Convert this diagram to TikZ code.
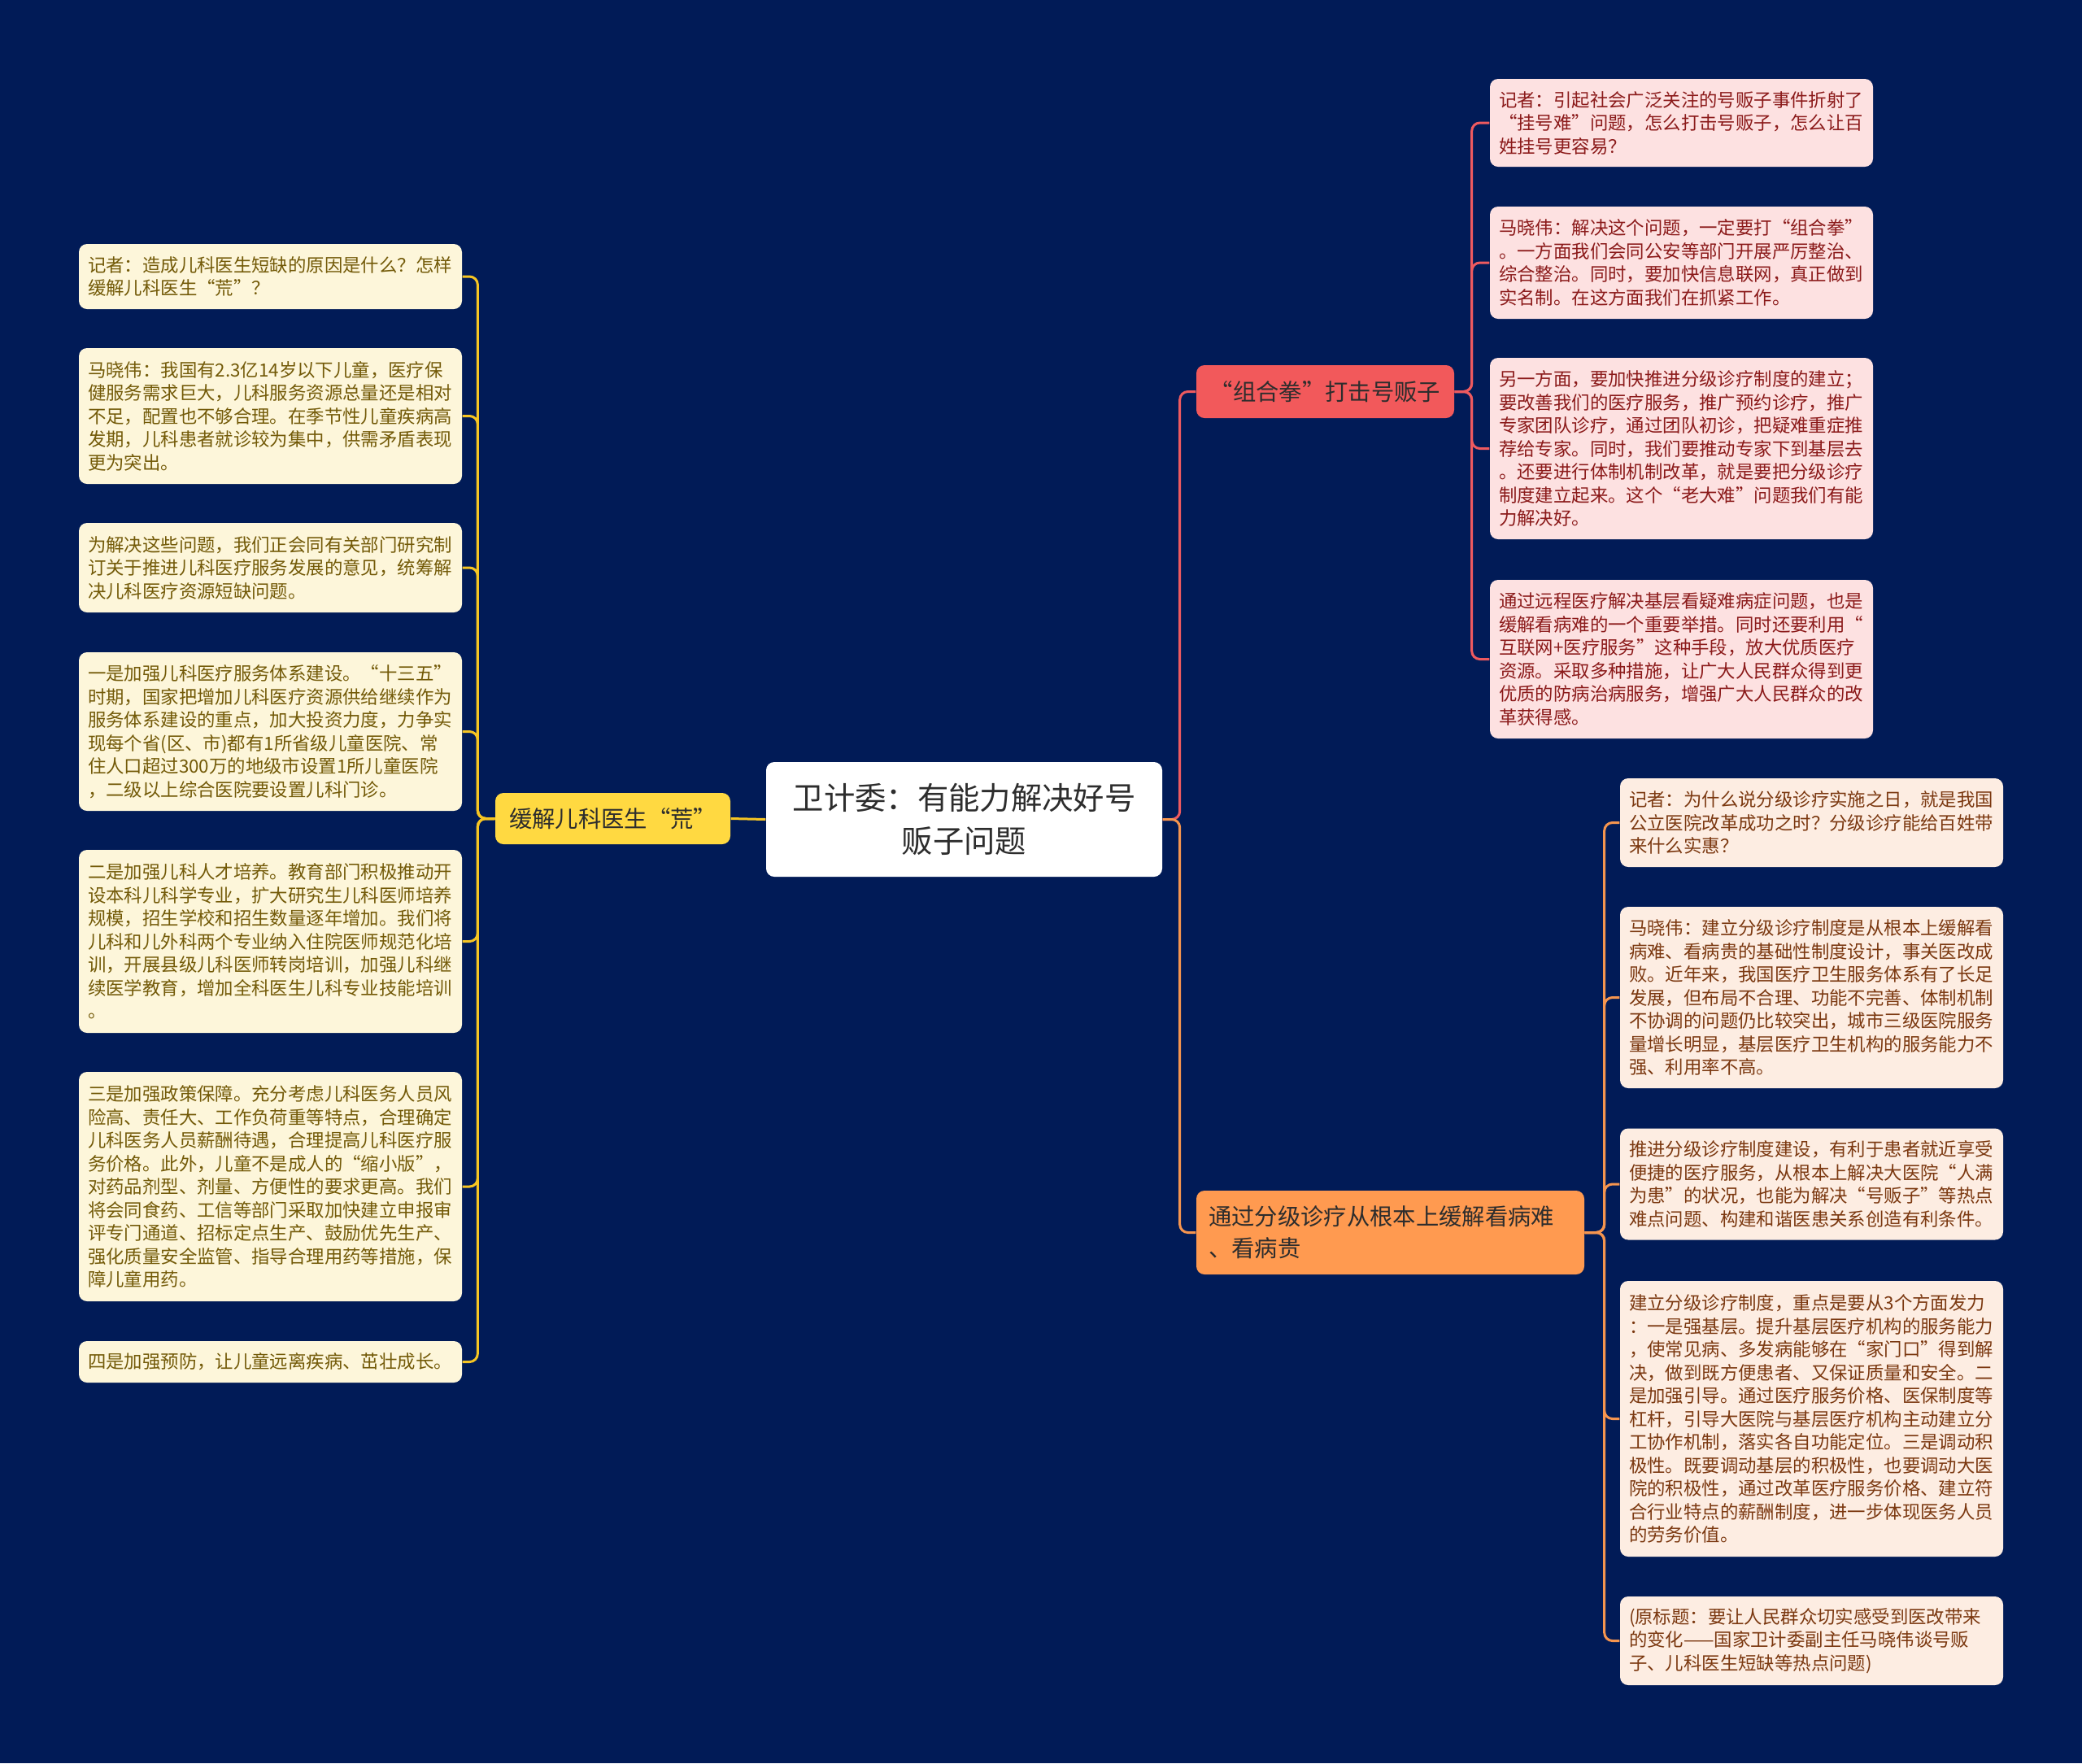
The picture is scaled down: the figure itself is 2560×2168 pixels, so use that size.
\documentclass[tikz,border=0pt]{standalone}
\usepackage{fontspec}
\setmainfont{Noto Sans CJK SC}
\definecolor{bg}{HTML}{011B57}
\definecolor{creamfill}{HTML}{FDF6DA}
\definecolor{creamtext}{HTML}{735A08}
\definecolor{yline}{HTML}{F6C523}
\definecolor{yfill}{HTML}{FFD941}
\definecolor{rline}{HTML}{EE5A5F}
\definecolor{rfill}{HTML}{F2595B}
\definecolor{pinkfill}{HTML}{FDE1E1}
\definecolor{pinktext}{HTML}{8B1A1A}
\definecolor{oline}{HTML}{F5954F}
\definecolor{ofill}{HTML}{FF9A50}
\definecolor{peachfill}{HTML}{FDEDE2}
\definecolor{peachtext}{HTML}{7B3810}
\definecolor{darktext}{HTML}{2D2D2D}
\newcommand\leaffont{\fontsize{6.72pt}{8.55pt}\selectfont}
\newcommand\branchfont{\fontsize{8.5pt}{11.7pt}\selectfont}
\newcommand\rootfont{\fontsize{11.5pt}{15.9pt}\selectfont}
\begin{document}
\begin{tikzpicture}[x=0.3pt,y=-0.3pt,
  leafbox/.style={rounded corners=3pt, inner xsep=3.3pt, inner ysep=0pt,
    text width=134.7pt, align=left, font=\leaffont, anchor=center},
  leafL/.style={leafbox, fill=creamfill, text=creamtext},
  leafA/.style={leafbox, fill=pinkfill, text=pinktext},
  leafB/.style={leafbox, fill=peachfill, text=peachtext},
  conn/.style={line width=0.9pt, rounded corners=3pt},
  yconn/.style={conn, draw=yline},
  rconn/.style={conn, draw=rline},
  oconn/.style={conn, draw=oline}]
\fill[bg] (0,0) rectangle (2560,2168);
\useasboundingbox (0,0) rectangle (2560,2168);

% root
\node[rounded corners=3pt, fill=white, text=darktext, font=\rootfont, align=center,
  minimum width=146.1pt, minimum height=42.3pt, inner sep=0pt] (root) at (1185.5,1007.5)
  {卫计委：有能力解决好号\\贩子问题};

% branches
\node[rounded corners=3pt, fill=yfill, text=darktext, font=\branchfont,
  minimum width=86.7pt, minimum height=18.9pt, inner sep=0pt] (b1) at (753.5,1006.5)
  {缓解儿科医生“荒”};
\node[rounded corners=3pt, fill=rfill, text=darktext, font=\branchfont,
  minimum width=95.1pt, minimum height=19.5pt, inner sep=0pt] (b2) at (1629.5,481.5)
  {“组合拳”打击号贩子};
\node[rounded corners=3pt, fill=ofill, text=darktext, font=\branchfont,
  text width=134.1pt, align=left, inner xsep=4.5pt, inner ysep=0pt,
  minimum height=30.9pt] (b3) at (1709.5,1515.5)
  {通过分级诊疗从根本上缓解看病难\\、看病贵};

% left leaves
\node[leafL, minimum height=24pt] (l1) at (332.5,340)
  {记者：造成儿科医生短缺的原因是什么？怎样\\缓解儿科医生“荒”？};
\node[leafL, minimum height=50.1pt] (l2) at (332.5,511.5)
  {马晓伟：我国有2.3亿14岁以下儿童，医疗保\\健服务需求巨大，儿科服务资源总量还是相对\\不足，配置也不够合理。在季节性儿童疾病高\\发期，儿科患者就诊较为集中，供需矛盾表现\\更为突出。};
\node[leafL, minimum height=33pt] (l3) at (332.5,698)
  {为解决这些问题，我们正会同有关部门研究制\\订关于推进儿科医疗服务发展的意见，统筹解\\决儿科医疗资源短缺问题。};
\node[leafL, minimum height=58.5pt] (l4) at (332.5,899.5)
  {一是加强儿科医疗服务体系建设。“十三五”\\时期，国家把增加儿科医疗资源供给继续作为\\服务体系建设的重点，加大投资力度，力争实\\现每个省(区、市)都有1所省级儿童医院、常\\住人口超过300万的地级市设置1所儿童医院\\，二级以上综合医院要设置儿科门诊。};
\node[leafL, minimum height=67.5pt] (l5) at (332.5,1157.5)
  {二是加强儿科人才培养。教育部门积极推动开\\设本科儿科学专业，扩大研究生儿科医师培养\\规模，招生学校和招生数量逐年增加。我们将\\儿科和儿外科两个专业纳入住院医师规范化培\\训，开展县级儿科医师转岗培训，加强儿科继\\续医学教育，增加全科医生儿科专业技能培训\\。};
\node[leafL, minimum height=84.6pt] (l6) at (332.5,1459)
  {三是加强政策保障。充分考虑儿科医务人员风\\险高、责任大、工作负荷重等特点，合理确定\\儿科医务人员薪酬待遇，合理提高儿科医疗服\\务价格。此外，儿童不是成人的“缩小版”，\\对药品剂型、剂量、方便性的要求更高。我们\\将会同食药、工信等部门采取加快建立申报审\\评专门通道、招标定点生产、鼓励优先生产、\\强化质量安全监管、指导合理用药等措施，保\\障儿童用药。};
\node[leafL, minimum height=15.3pt] (l7) at (332.5,1674.5)
  {四是加强预防，让儿童远离疾病、茁壮成长。};

% right top leaves
\node[leafA, minimum height=32.4pt] (a1) at (2067.5,151)
  {记者：引起社会广泛关注的号贩子事件折射了\\“挂号难”问题，怎么打击号贩子，怎么让百\\姓挂号更容易？};
\node[leafA, minimum height=41.4pt] (a2) at (2067.5,323)
  {马晓伟：解决这个问题，一定要打“组合拳”\\。一方面我们会同公安等部门开展严厉整治、\\综合整治。同时，要加快信息联网，真正做到\\实名制。在这方面我们在抓紧工作。};
\node[leafA, minimum height=66.9pt] (a3) at (2067.5,551.5)
  {另一方面，要加快推进分级诊疗制度的建立；\\要改善我们的医疗服务，推广预约诊疗，推广\\专家团队诊疗，通过团队初诊，把疑难重症推\\荐给专家。同时，我们要推动专家下到基层去\\。还要进行体制机制改革，就是要把分级诊疗\\制度建立起来。这个“老大难”问题我们有能\\力解决好。};
\node[leafA, minimum height=58.5pt] (a4) at (2067.5,810.5)
  {通过远程医疗解决基层看疑难病症问题，也是\\缓解看病难的一个重要举措。同时还要利用“\\互联网+医疗服务”这种手段，放大优质医疗\\资源。采取多种措施，让广大人民群众得到更\\优质的防病治病服务，增强广大人民群众的改\\革获得感。};

% right bottom leaves
\node[leafB, minimum height=32.7pt] (e1) at (2227.5,1011.5)
  {记者：为什么说分级诊疗实施之日，就是我国\\公立医院改革成功之时？分级诊疗能给百姓带\\来什么实惠？};
\node[leafB, minimum height=66.9pt] (e2) at (2227.5,1226.5)
  {马晓伟：建立分级诊疗制度是从根本上缓解看\\病难、看病贵的基础性制度设计，事关医改成\\败。近年来，我国医疗卫生服务体系有了长足\\发展，但布局不合理、功能不完善、体制机制\\不协调的问题仍比较突出，城市三级医院服务\\量增长明显，基层医疗卫生机构的服务能力不\\强、利用率不高。};
\node[leafB, minimum height=41.1pt] (e3) at (2227.5,1456)
  {推进分级诊疗制度建设，有利于患者就近享受\\便捷的医疗服务，从根本上解决大医院“人满\\为患”的状况，也能为解决“号贩子”等热点\\难点问题、构建和谐医患关系创造有利条件。};
\node[leafB, minimum height=101.7pt] (e4) at (2227.5,1744.5)
  {建立分级诊疗制度，重点是要从3个方面发力\\：一是强基层。提升基层医疗机构的服务能力\\，使常见病、多发病能够在“家门口”得到解\\决，做到既方便患者、又保证质量和安全。二\\是加强引导。通过医疗服务价格、医保制度等\\杠杆，引导大医院与基层医疗机构主动建立分\\工协作机制，落实各自功能定位。三是调动积\\极性。既要调动基层的积极性，也要调动大医\\院的积极性，通过改革医疗服务价格、建立符\\合行业特点的薪酬制度，进一步体现医务人员\\的劳务价值。};
\node[leafB, minimum height=32.7pt] (e5) at (2227.5,2017.5)
  {(原标题：要让人民群众切实感受到医改带来\\的变化——国家卫计委副主任马晓伟谈号贩\\子、儿科医生短缺等热点问题)};

% connectors
\draw[yconn] (root.west) -- (b1.east);
\draw[rconn] (root.east) -- ++(21,0) |- (b2.west);
\draw[oconn] (root.east) -- ++(21,0) |- (b3.west);
\foreach \n in {l1,l2,l3,l4,l5,l6,l7}
  \draw[yconn] (b1.west) -- ++(-21,0) |- (\n.east);
\foreach \n in {a1,a2,a3,a4}
  \draw[rconn] (b2.east) -- ++(21,0) |- (\n.west);
\foreach \n in {e1,e2,e3,e4,e5}
  \draw[oconn] (b3.east) -- ++(24,0) |- (\n.west);
\end{tikzpicture}
\end{document}
